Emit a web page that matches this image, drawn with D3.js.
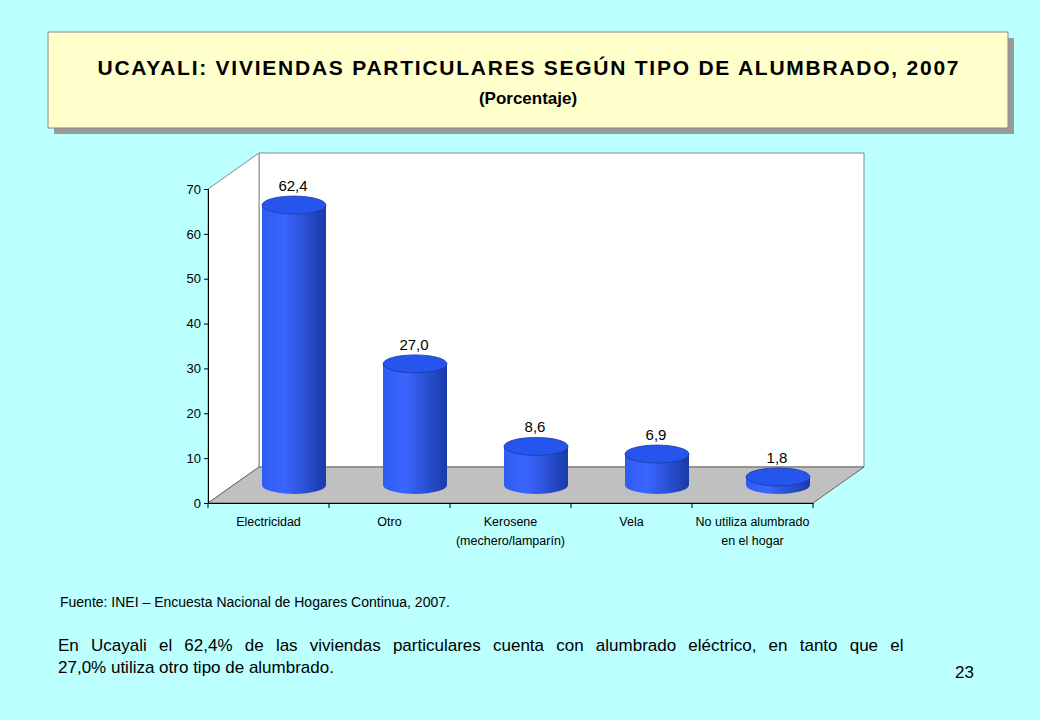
<!DOCTYPE html>
<html><head><meta charset="utf-8">
<script src="https://cdn.jsdelivr.net/npm/d3@7"></script>
<style>body{margin:0;background:#bbffff;}svg{display:block;font-family:"Liberation Sans",Arial,sans-serif;}</style>
</head><body><svg id="c" width="1040" height="720"></svg>
<script>
const categories = [["Electricidad"], ["Otro"], ["Kerosene", "(mechero/lamparín)"], ["Vela"], ["No utiliza alumbrado", "en el hogar"]];
const values = [62.4, 27.0, 8.6, 6.9, 1.8];
const valueLabels = ["62,4", "27,0", "8,6", "6,9", "1,8"];
const yTicks = [0, 10, 20, 30, 40, 50, 60, 70];

const svg = d3.select("#c");
svg.append("rect").attr("width", 1040).attr("height", 720).attr("fill", "#bbffff");

// title box
svg.append("rect").attr("x", 54).attr("y", 38).attr("width", 960).attr("height", 96).attr("fill", "#999");
svg.append("rect").attr("x", 48).attr("y", 32).attr("width", 960).attr("height", 96)
  .attr("fill", "#ffffcc").attr("stroke", "#888");
svg.append("text").attr("x", 528).attr("y", 75).attr("text-anchor", "middle")
  .attr("font-size", 21).attr("font-weight", "bold").attr("textLength", 861)
  .text("UCAYALI: VIVIENDAS PARTICULARES SEGÚN TIPO DE ALUMBRADO, 2007");
svg.append("text").attr("x", 528).attr("y", 104).attr("text-anchor", "middle")
  .attr("font-size", 17).attr("font-weight", "bold").text("(Porcentaje)");

// 3d frame
const dx = 51, dy = -36;
const x = d3.scaleBand().domain(d3.range(values.length)).range([208, 813]);
const y = d3.scaleLinear().domain([0, 70]).range([503, 189]);
const g = svg.append("g");
const y0 = y(0);
g.append("polygon").attr("points", [[208 + dx, y(70) + dy], [864, y(70) + dy], [864, y0 + dy], [208 + dx, y0 + dy]].join(" "))
  .attr("fill", "#fff").attr("stroke", "#888");
g.append("polygon").attr("points", [[208, y(70)], [208 + dx, y(70) + dy], [208 + dx, y0 + dy], [208, y0]].join(" "))
  .attr("fill", "#fff").attr("stroke", "#888");
g.append("polygon").attr("points", [[208, y0], [208 + dx, y0 + dy], [864, y0 + dy], [813, y0]].join(" "))
  .attr("fill", "#c0c0c0").attr("stroke", "#666");

// axes
const ya = g.append("g").attr("transform", "translate(208,0)").call(d3.axisLeft(y).tickValues(yTicks).tickSize(4));
ya.select(".domain").attr("stroke", "#000");
ya.selectAll("text").attr("font-size", 13).attr("font-family", "Liberation Sans, Arial");
const xa = g.append("g").attr("transform", `translate(0,${y0})`)
  .call(d3.axisBottom(x).tickSize(0).tickFormat(""));
xa.select(".domain").attr("stroke", "#000");
x.domain().concat([values.length]).forEach(i => {
  const px = i < values.length ? x(i) : x.range()[1];
  g.append("line").attr("x1", px).attr("x2", px).attr("y1", y0).attr("y2", y0 + 5).attr("stroke", "#000");
});
categories.forEach((lines, i) => {
  const t = g.append("text").attr("text-anchor", "middle").attr("font-size", 12.5)
    .attr("x", x(i) + x.bandwidth() / 2).attr("y", y0 + 23);
  lines.forEach((l, j) => t.append("tspan").attr("x", x(i) + x.bandwidth() / 2).attr("dy", j ? 19 : 0).text(l));
});

// cylinders
const defs = svg.append("defs");
const gr = defs.append("linearGradient").attr("id", "cyl");
gr.append("stop").attr("offset", "0%").attr("stop-color", "#2f5cf0");
gr.append("stop").attr("offset", "35%").attr("stop-color", "#3a66ff");
gr.append("stop").attr("offset", "100%").attr("stop-color", "#1a3aa8");
const rx = 32, ry = 9;
values.forEach((v, i) => {
  const cx = x(i) + x.bandwidth() / 2 + dx / 2;
  const yb = y0 + dy / 2, yt = y(v) + dy / 2;
  g.append("path").attr("d", `M${cx - rx},${yt} L${cx - rx},${yb} A${rx},${ry} 0 0 0 ${cx + rx},${yb} L${cx + rx},${yt} Z`)
    .attr("fill", "url(#cyl)");
  g.append("ellipse").attr("cx", cx).attr("cy", yt).attr("rx", rx).attr("ry", ry).attr("fill", "#2655ee").attr("stroke", "#1a3aa8").attr("stroke-width", 0.8);
  g.append("text").attr("x", cx - 1).attr("y", yt - 14).attr("text-anchor", "middle")
    .attr("font-size", 15).text(valueLabels[i]);
});

// footnotes
svg.append("text").attr("x", 60).attr("y", 607).attr("font-size", 14).text("Fuente: INEI – Encuesta Nacional de Hogares Continua, 2007.");
const para = svg.append("text").attr("x", 58).attr("y", 651).attr("font-size", 17)
  .text("En Ucayali el 62,4% de las viviendas particulares cuenta con alumbrado eléctrico, en  tanto que el");
const len = para.node().getComputedTextLength();
para.attr("word-spacing", Math.max(0, (853 - len) / 16));
svg.append("text").attr("x", 58).attr("y", 673).attr("font-size", 17).text("27,0% utiliza otro tipo de alumbrado.");
svg.append("text").attr("x", 955).attr("y", 678).attr("font-size", 17).text("23");
</script></body></html>
